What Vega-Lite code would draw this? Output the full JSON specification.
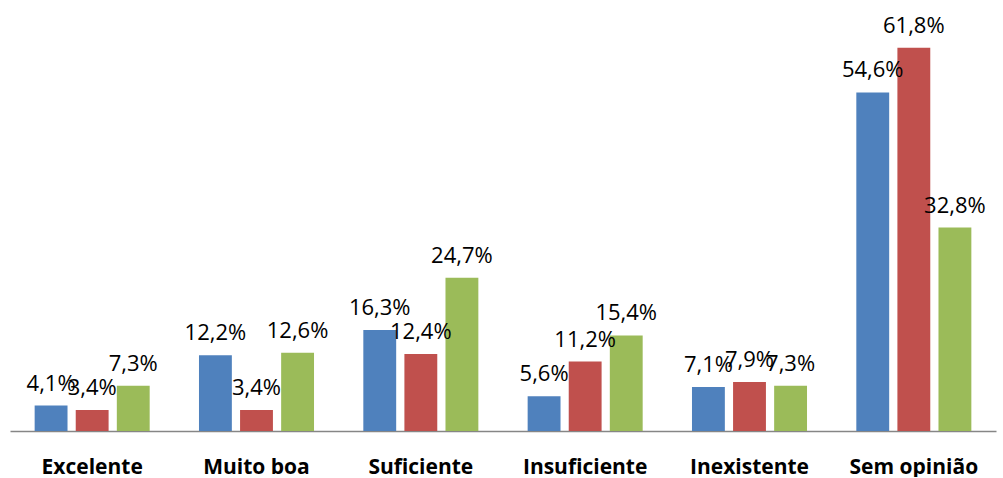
{
  "$schema": "https://vega.github.io/schema/vega-lite/v6.json",
  "width": 986,
  "height": 431,
  "padding": {"left": 10, "top": 0, "right": 7, "bottom": 0},
  "config": {
    "view": {"stroke": null},
    "locale": {"number": {"decimal": ",", "thousands": ".", "grouping": [3], "currency": ["€", ""]}}
  },
  "data": {
    "values": [
      {"categoria": "Excelente", "serie": "Série 1", "valor": 0.041},
      {"categoria": "Excelente", "serie": "Série 2", "valor": 0.034},
      {"categoria": "Excelente", "serie": "Série 3", "valor": 0.073},
      {"categoria": "Muito boa", "serie": "Série 1", "valor": 0.122},
      {"categoria": "Muito boa", "serie": "Série 2", "valor": 0.034},
      {"categoria": "Muito boa", "serie": "Série 3", "valor": 0.126},
      {"categoria": "Suficiente", "serie": "Série 1", "valor": 0.163},
      {"categoria": "Suficiente", "serie": "Série 2", "valor": 0.124},
      {"categoria": "Suficiente", "serie": "Série 3", "valor": 0.247},
      {"categoria": "Insuficiente", "serie": "Série 1", "valor": 0.056},
      {"categoria": "Insuficiente", "serie": "Série 2", "valor": 0.112},
      {"categoria": "Insuficiente", "serie": "Série 3", "valor": 0.154},
      {"categoria": "Inexistente", "serie": "Série 1", "valor": 0.071},
      {"categoria": "Inexistente", "serie": "Série 2", "valor": 0.079},
      {"categoria": "Inexistente", "serie": "Série 3", "valor": 0.073},
      {"categoria": "Sem opinião", "serie": "Série 1", "valor": 0.546},
      {"categoria": "Sem opinião", "serie": "Série 2", "valor": 0.618},
      {"categoria": "Sem opinião", "serie": "Série 3", "valor": 0.328}
    ]
  },
  "encoding": {
    "x": {
      "field": "categoria",
      "type": "nominal",
      "sort": null,
      "scale": {"paddingInner": 0, "paddingOuter": 0},
      "axis": {
        "title": null,
        "labelAngle": 0,
        "ticks": false,
        "domainColor": "#868686",
        "domainWidth": 1.5,
        "labelFont": "Open Sans",
        "labelFontWeight": "bold",
        "labelFontSize": 21,
        "labelColor": "#000000",
        "labelPadding": 25
      }
    },
    "xOffset": {
      "field": "serie",
      "type": "nominal",
      "scale": {"paddingInner": 0.2, "paddingOuter": 0.6}
    },
    "y": {
      "field": "valor",
      "type": "quantitative",
      "scale": {"domain": [0, 0.695], "nice": false},
      "axis": null
    }
  },
  "layer": [
    {
      "mark": {"type": "bar"},
      "encoding": {
        "color": {
          "field": "serie",
          "type": "nominal",
          "scale": {"range": ["#4F81BD", "#C0504D", "#9BBB59"]},
          "legend": null
        }
      }
    },
    {
      "mark": {"type": "text", "baseline": "alphabetic", "dy": -15, "font": "Open Sans", "fontSize": 22, "color": "#000000"},
      "encoding": {
        "text": {"field": "valor", "type": "quantitative", "format": ".1%"}
      }
    }
  ]
}
